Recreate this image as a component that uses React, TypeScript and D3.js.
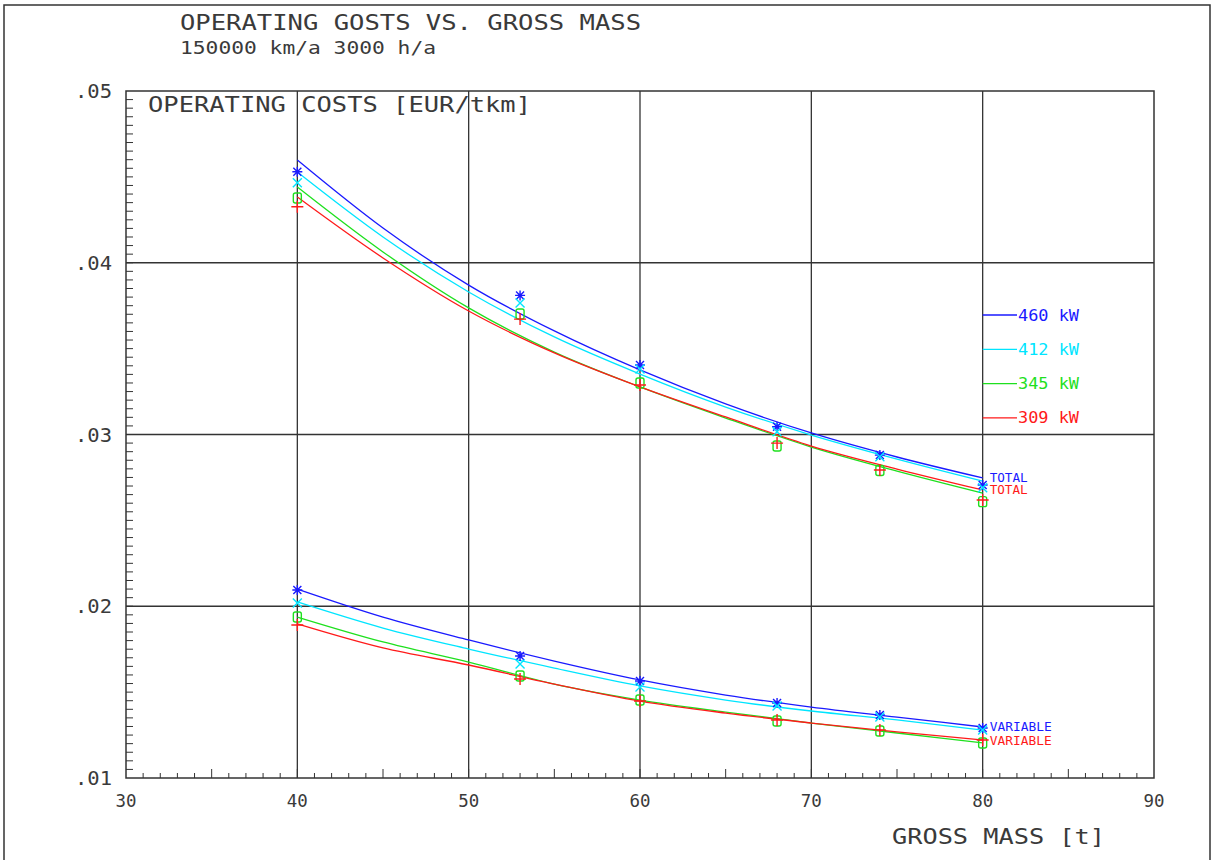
import React from 'react';
import * as d3 from 'd3';

// axis ticks
const massTicks = [30, 40, 50, 60, 70, 80, 90];
const gridMass = [40, 50, 60, 70, 80];
const costTicks = [0.01, 0.02, 0.03, 0.04, 0.05];
const costTickLabels = ['.01', '.02', '.03', '.04', '.05'];
const gridCost = [0.02, 0.03, 0.04];

// engines (legend order)
const engines = ['460 kW', '412 kW', '345 kW', '309 kW'];
const colors = ['#1a1aff', '#00e5ff', '#1ee01e', '#ff1a1a'];
const markers = ['star', 'cross', 'oval', 'plus'];

// mass values of the fitted curves and of the computed points
const curveMass = [40, 45, 50, 55, 60, 65, 70, 75, 80];
const pointMass = [40, 53, 60, 68, 74, 80];

// TOTAL operating costs, fitted curves [EUR/tkm]
const total460 = [0.04598, 0.04202, 0.0387, 0.03603, 0.03376, 0.03178, 0.03009, 0.02869, 0.02747];
const total412 = [0.04528, 0.0415, 0.0383, 0.03568, 0.03352, 0.0316, 0.02997, 0.02857, 0.02729];
const total345 = [0.04441, 0.04063, 0.03737, 0.0348, 0.03277, 0.03096, 0.02927, 0.02787, 0.02659];
const total309 = [0.04383, 0.04028, 0.03719, 0.03475, 0.03277, 0.03102, 0.02933, 0.02799, 0.02677];

// VARIABLE operating costs, fitted curves
const var460 = [0.021, 0.01937, 0.01804, 0.01681, 0.01571, 0.01483, 0.01413, 0.01355, 0.01297];
const var412 = [0.02025, 0.01873, 0.01751, 0.0164, 0.01536, 0.01454, 0.0139, 0.01338, 0.01279];
const var345 = [0.01937, 0.01792, 0.01675, 0.01547, 0.01454, 0.01384, 0.0132, 0.01262, 0.01204];
const var309 = [0.01897, 0.01757, 0.01658, 0.01547, 0.01448, 0.01378, 0.0132, 0.01268, 0.01221];

// computed points
const totalPts460 = [0.0453, 0.0381, 0.03405, 0.03045, 0.0288, 0.02706];
const totalPts412 = [0.04466, 0.03766, 0.03381, 0.03016, 0.0287, 0.0269];
const totalPts345 = [0.04377, 0.03702, 0.033, 0.02933, 0.0279, 0.02609];
const totalPts309 = [0.04326, 0.03672, 0.03288, 0.0295, 0.02793, 0.02619];

const varPts460 = [0.02095, 0.0171, 0.01565, 0.01437, 0.01367, 0.01291];
const varPts412 = [0.02019, 0.01664, 0.0153, 0.01419, 0.01355, 0.01279];
const varPts345 = [0.01937, 0.01594, 0.01454, 0.01332, 0.01274, 0.01204];
const varPts309 = [0.01891, 0.01576, 0.01448, 0.01338, 0.0128, 0.01221];

const totalCurves = [total460, total412, total345, total309];
const varCurves = [var460, var412, var345, var309];
const totalPoints = [totalPts460, totalPts412, totalPts345, totalPts309];
const varPoints = [varPts460, varPts412, varPts345, varPts309];

const W = 1212;
const H = 860;
const left = 126, right = 1154, top = 91, bottom = 778;
const ink = '#333';
const textInk = '#3a3a3a';
const font = "'DejaVu Sans Mono', monospace";

function markerPath(kind: string, x: number, y: number) {
  if (kind === 'star') {
    const r = 5, d = 4;
    return `M${x - r},${y}H${x + r}M${x},${y - r}V${y + r}M${x - d},${y - d}L${x + d},${y + d}M${x - d},${y + d}L${x + d},${y - d}`;
  }
  if (kind === 'cross') {
    const d = 4.5;
    return `M${x - d},${y - d}L${x + d},${y + d}M${x - d},${y + d}L${x + d},${y - d}`;
  }
  if (kind === 'plus') {
    const r = 6;
    return `M${x - r},${y}H${x + r}M${x},${y - r}V${y + r}`;
  }
  // small rounded box
  const w = 4, h = 5;
  return `M${x - w + 2},${y - h}H${x + w - 2}Q${x + w},${y - h} ${x + w},${y - h + 2}V${y + h - 2}Q${x + w},${y + h} ${x + w - 2},${y + h}H${x - w + 2}Q${x - w},${y + h} ${x - w},${y + h - 2}V${y - h + 2}Q${x - w},${y - h} ${x - w + 2},${y - h}Z`;
}

export default function App() {
  const x = d3.scaleLinear().domain([30, 90]).range([left, right]);
  const y = d3.scaleLinear().domain([0.01, 0.05]).range([bottom, top]);

  const line = d3
    .line<number>()
    .x((_, i) => x(curveMass[i]))
    .y((d) => y(d))
    .curve(d3.curveMonotoneX);

  const minorX = d3.range(31, 90, 1);
  const minorY = d3.range(0.0105, 0.05, 0.0005);

  return (
    <svg
      width={W}
      height={H}
      style={{ position: 'absolute', left: 0, top: 0, background: '#fff' }}
      fontFamily={font}
    >
      <rect x={4} y={5} width={1206} height={870} fill="none" stroke={ink} strokeWidth={1.5} />

      {/* titles */}
      <text x={180} y={30} fontSize={21} fill={textInk} textLength={461} lengthAdjust="spacingAndGlyphs">
        OPERATING GOSTS VS. GROSS MASS
      </text>
      <text x={180} y={54} fontSize={17} fill={textInk} textLength={256} lengthAdjust="spacingAndGlyphs">
        150000 km/a 3000 h/a
      </text>

      {/* grid */}
      {gridMass.map((m) => (
        <line key={'gx' + m} x1={x(m)} x2={x(m)} y1={top} y2={bottom} stroke={ink} strokeWidth={1.3} />
      ))}
      {gridCost.map((c) => (
        <line key={'gy' + c} x1={left} x2={right} y1={y(c)} y2={y(c)} stroke={ink} strokeWidth={1.3} />
      ))}
      <rect x={left} y={top} width={right - left} height={bottom - top} fill="none" stroke={ink} strokeWidth={1.5} />

      {/* minor ticks */}
      {minorX.map((m) => (
        <line
          key={'tx' + m}
          x1={x(m)}
          x2={x(m)}
          y1={bottom}
          y2={bottom - (m % 5 === 0 ? 9 : 5)}
          stroke={ink}
          strokeWidth={1}
        />
      ))}
      {minorY.map((c, i) => (
        <line key={'ty' + i} x1={left} x2={left + 7} y1={y(c)} y2={y(c)} stroke={ink} strokeWidth={1} />
      ))}

      {/* tick labels */}
      {costTicks.map((c, i) => (
        <text
          key={'ly' + c}
          x={75}
          y={y(c) + 7}
          fontSize={19}
          fill={textInk}
          textLength={37}
          lengthAdjust="spacingAndGlyphs"
        >
          {costTickLabels[i]}
        </text>
      ))}
      {massTicks.map((m) => (
        <text
          key={'lx' + m}
          x={x(m) - 10.5}
          y={807}
          fontSize={18}
          fill={textInk}
          textLength={21}
          lengthAdjust="spacingAndGlyphs"
        >
          {m}
        </text>
      ))}

      <text x={148} y={112} fontSize={21} fill={textInk} textLength={383} lengthAdjust="spacingAndGlyphs">
        OPERATING COSTS [EUR/tkm]
      </text>
      <text x={892} y={844} fontSize={21} fill={textInk} textLength={213} lengthAdjust="spacingAndGlyphs">
        GROSS MASS [t]
      </text>

      {/* curves */}
      {[...totalCurves, ...varCurves].map((vals, i) => (
        <path key={'c' + i} d={line(vals) || ''} fill="none" stroke={colors[i % 4]} strokeWidth={1.3} />
      ))}

      {/* points */}
      {[...totalPoints, ...varPoints].map((vals, i) =>
        vals.map((v, j) => (
          <path
            key={'p' + i + '-' + j}
            d={markerPath(markers[i % 4], x(pointMass[j]), y(v))}
            fill="none"
            stroke={colors[i % 4]}
            strokeWidth={1.4}
          />
        ))
      )}

      {/* curve labels */}
      {[
        { vals: total460, text: 'TOTAL', color: colors[0], w: 38 },
        { vals: total309, text: 'TOTAL', color: colors[3], w: 38 },
        { vals: var460, text: 'VARIABLE', color: colors[0], w: 62 },
        { vals: var309, text: 'VARIABLE', color: colors[3], w: 62 },
      ].map((l, i) => (
        <text
          key={'cl' + i}
          x={x(80) + 7}
          y={y(l.vals[l.vals.length - 1]) + 4.5}
          fontSize={12}
          fill={l.color}
          textLength={l.w}
          lengthAdjust="spacingAndGlyphs"
        >
          {l.text}
        </text>
      ))}

      {/* legend */}
      {engines.map((e, i) => {
        const ly = 315 + i * 34.3;
        return (
          <g key={'lg' + e}>
            <line x1={x(80)} x2={1017} y1={ly} y2={ly} stroke={colors[i]} strokeWidth={1.3} />
            <text x={1018} y={ly + 5.5} fontSize={15} fill={colors[i]} textLength={61} lengthAdjust="spacingAndGlyphs">
              {e}
            </text>
          </g>
        );
      })}
    </svg>
  );
}
